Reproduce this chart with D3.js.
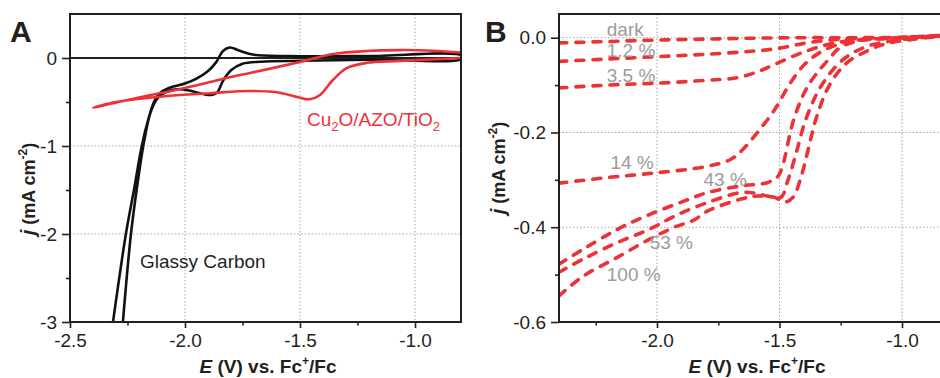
<!DOCTYPE html>
<html>
<head>
<meta charset="utf-8">
<script src="https://cdn.jsdelivr.net/npm/d3@7"></script>
<style>
  body { margin: 0; background: #fff; }
  svg text { font-family: "Liberation Sans", Arial, sans-serif; }
  .tick text { font-size: 19px; fill: #231f20; }
  .tick line { stroke: #231f20; stroke-width: 1.6; }
  .domain { display: none; }
</style>
</head>
<body>
<div id="chart"></div>
<script>
// ---- data ----
// Panel A: cyclic voltammograms, [E (V), j (mA cm-2)]
var glassyCarbon = [
  [-2.313, -3], [-2.257, -2], [-2.222, -1.5], [-2.188, -1], [-2.16, -0.7], [-2.135, -0.5],
  [-2.11, -0.4], [-2.07, -0.34], [-2.0, -0.29], [-1.95, -0.235], [-1.905, -0.16],
  [-1.865, -0.05], [-1.835, 0.08], [-1.805, 0.12], [-1.765, 0.085], [-1.70, 0.037],
  [-1.55, 0.022], [-1.2, 0.022], [-0.8, 0.03],
  [-0.8, -0.01], [-1.2, -0.02], [-1.5, -0.032], [-1.67, -0.042], [-1.75, -0.065],
  [-1.80, -0.14], [-1.835, -0.26], [-1.86, -0.39], [-1.885, -0.42], [-1.92, -0.41],
  [-1.98, -0.37], [-2.03, -0.355], [-2.08, -0.38], [-2.12, -0.46], [-2.15, -0.62],
  [-2.178, -0.95], [-2.205, -1.4], [-2.235, -2], [-2.27, -3]
];
var cu2oStack = [
  [-0.8, 0.062], [-0.92, 0.083], [-1.065, 0.09], [-1.21, 0.08], [-1.357, 0.045],
  [-1.5, -0.045], [-1.717, -0.17], [-1.79, -0.21], [-2.0, -0.34], [-2.2, -0.45], [-2.4, -0.565],
  [-2.3, -0.5], [-2.11, -0.44], [-1.89, -0.40], [-1.717, -0.375], [-1.6, -0.39],
  [-1.5, -0.452], [-1.457, -0.468], [-1.413, -0.42], [-1.357, -0.25], [-1.297, -0.115],
  [-1.21, -0.055], [-1.065, -0.033], [-0.8, 0.0]
];

// Panel B: linear sweeps at different light intensities, [E (V), j (mA cm-2)]
var lightLabels = ["dark", "1.2 %", "3.5 %", "14 %", "43 %", "53 %", "100 %"];
var sweepDark = [[-2.4, -0.011], [-2.2, -0.008], [-2.0, -0.005], [-1.8, -0.003], [-1.6, -0.001],
  [-1.4, 0], [-1.2, 0.0], [-1.0, 0.001], [-0.8, 0.006]];
var sweep1 = [[-2.4, -0.05], [-2.2, -0.045], [-2.0, -0.04], [-1.8, -0.035], [-1.6, -0.028],
  [-1.5, -0.022], [-1.4, -0.012], [-1.3, -0.005], [-1.2, -0.002], [-1.0, 0.0], [-0.8, 0.005]];
var sweep3 = [[-2.4, -0.106], [-2.2, -0.1], [-2.0, -0.096], [-1.8, -0.09], [-1.68, -0.085],
  [-1.6, -0.074], [-1.535, -0.06], [-1.4, -0.03], [-1.265, -0.01], [-1.13, -0.003], [-1.0, 0.0], [-0.8, 0.005]];
var sweep14 = [[-2.4, -0.307], [-2.2, -0.295], [-2.0, -0.285], [-1.8, -0.272], [-1.70, -0.257],
  [-1.65, -0.236], [-1.59, -0.2], [-1.52, -0.152], [-1.455, -0.095], [-1.385, -0.05],
  [-1.30, -0.022], [-1.21, -0.008], [-1.0, 0.0], [-0.8, 0.005]];
var sweep43 = [[-2.4, -0.478], [-2.3, -0.446], [-2.16, -0.404], [-2.03, -0.373], [-1.89, -0.345],
  [-1.795, -0.327], [-1.66, -0.313], [-1.55, -0.306], [-1.51, -0.295], [-1.49, -0.275],
  [-1.442, -0.173], [-1.384, -0.102], [-1.30, -0.046], [-1.25, -0.02], [-1.17, -0.006],
  [-1.0, 0.0], [-0.8, 0.005]];
var sweep53 = [[-2.4, -0.495], [-2.3, -0.467], [-2.16, -0.432], [-2.03, -0.404], [-1.93, -0.377],
  [-1.795, -0.348], [-1.66, -0.327], [-1.6, -0.328], [-1.55, -0.334], [-1.495, -0.337],
  [-1.465, -0.3], [-1.43, -0.24], [-1.393, -0.173], [-1.33, -0.102], [-1.24, -0.046],
  [-1.14, -0.018], [-1.0, -0.004], [-0.8, 0.005]];
var sweep100 = [[-2.4, -0.545], [-2.3, -0.503], [-2.16, -0.463], [-2.03, -0.425], [-1.93, -0.4],
  [-1.85, -0.385], [-1.795, -0.366], [-1.66, -0.341], [-1.59, -0.334], [-1.52, -0.337],
  [-1.48, -0.347], [-1.445, -0.337], [-1.41, -0.29], [-1.38, -0.23], [-1.352, -0.173],
  [-1.298, -0.102], [-1.225, -0.053], [-1.13, -0.025], [-1.06, -0.012], [-0.95, -0.003], [-0.8, 0.005]];
var sweeps = [sweepDark, sweep1, sweep3, sweep14, sweep43, sweep53, sweep100];
// where each intensity label sits (E, j of the text baseline start)
var labelE = [-2.205, -2.205, -2.205, -2.19, -1.81, -2.03, -2.205];
var labelJ = [0.003, -0.041, -0.093, -0.278, -0.314, -0.446, -0.513];

// axis ticks
var xTicksA = [-2.5, -2.0, -1.5, -1.0];
var xMinorA = [-2.25, -1.75, -1.25];
var yTicksA = [0, -1, -2, -3];
var yMinorA = [-0.5, -1.5, -2.5];
var xTicksB = [-2.0, -1.5, -1.0];
var xMinorB = [-2.25, -1.75, -1.25];
var yTicksB = [0.0, -0.2, -0.4, -0.6];
var yMinorB = [-0.1, -0.3, -0.5];

var svgWidth = 940;
var svgHeight = 378;
var red = "#ec3237";
var ink = "#231f20";

var svg = d3.select("#chart")
  .append("svg")
  .attr("width", svgWidth)
  .attr("height", svgHeight);

// ---- panel A ----
var boxA = { left: 70, right: 461, top: 14, bottom: 322 };
var xA = d3.scaleLinear().domain([-2.5, -0.8]).range([boxA.left, boxA.right]);
var yA = d3.scaleLinear().domain([-3, 0.5]).range([boxA.bottom, boxA.top]);

// ---- panel B ----
var boxB = { left: 559, right: 951, top: 14, bottom: 322 };
var xB = d3.scaleLinear().domain([-2.4, -0.8]).range([boxB.left, boxB.right]);
var yB = d3.scaleLinear().domain([-0.6, 0.05]).range([boxB.bottom, boxB.top]);

function drawGrid(g, x, y, box, xs, ys) {
  g.selectAll(".vgrid").data(xs).enter().append("line")
    .attr("x1", d => x(d)).attr("x2", d => x(d))
    .attr("y1", box.top).attr("y2", box.bottom)
    .attr("stroke", "#a7a7a7").attr("stroke-width", 1).attr("stroke-dasharray", "1.5,2");
  g.selectAll(".hgrid").data(ys).enter().append("line")
    .attr("y1", d => y(d)).attr("y2", d => y(d))
    .attr("x1", box.left).attr("x2", box.right)
    .attr("stroke", "#a7a7a7").attr("stroke-width", 1).attr("stroke-dasharray", "1.5,2");
}

function drawAxes(g, x, y, box, xt, xm, yt, ym, xfmt, yfmt) {
  g.append("g").attr("transform", `translate(0,${box.bottom})`)
    .call(d3.axisBottom(x).tickValues(xt).tickSize(6).tickSizeOuter(0).tickPadding(6).tickFormat(xfmt));
  g.append("g").attr("transform", `translate(0,${box.bottom})`)
    .call(d3.axisBottom(x).tickValues(xm).tickSize(3.5).tickSizeOuter(0).tickFormat(""));
  g.append("g").attr("transform", `translate(${box.left},0)`)
    .call(d3.axisLeft(y).tickValues(yt).tickSize(8).tickSizeOuter(0).tickPadding(5).tickFormat(yfmt));
  g.append("g").attr("transform", `translate(${box.left},0)`)
    .call(d3.axisLeft(y).tickValues(ym).tickSize(4).tickSizeOuter(0).tickFormat(""));
  g.append("rect")
    .attr("x", box.left).attr("y", box.top)
    .attr("width", box.right - box.left).attr("height", box.bottom - box.top)
    .attr("fill", "none").attr("stroke", ink).attr("stroke-width", 2);
}

svg.append("clipPath").attr("id", "clipA").append("rect")
  .attr("x", boxA.left).attr("y", boxA.top)
  .attr("width", boxA.right - boxA.left).attr("height", boxA.bottom - boxA.top);
svg.append("clipPath").attr("id", "clipB").append("rect")
  .attr("x", boxB.left).attr("y", boxB.top)
  .attr("width", boxB.right - boxB.left).attr("height", boxB.bottom - boxB.top);

var gA = svg.append("g");
drawGrid(gA, xA, yA, boxA, [-2.0, -1.5, -1.0], [-1, -2]);

// zero line
gA.append("line")
  .attr("x1", boxA.left).attr("x2", boxA.right)
  .attr("y1", yA(0)).attr("y2", yA(0))
  .attr("stroke", ink).attr("stroke-width", 2);

var lineA = d3.line().x(d => xA(d[0])).y(d => yA(d[1])).curve(d3.curveCatmullRom.alpha(0.5));
gA.append("path").datum(glassyCarbon)
  .attr("clip-path", "url(#clipA)")
  .attr("d", lineA).attr("fill", "none")
  .attr("stroke", "#111").attr("stroke-width", 2.6);
gA.append("path").datum(cu2oStack)
  .attr("clip-path", "url(#clipA)")
  .attr("d", lineA).attr("fill", "none")
  .attr("stroke", red).attr("stroke-width", 2.6);

drawAxes(gA, xA, yA, boxA, xTicksA, xMinorA, yTicksA, yMinorA,
  d => d.toFixed(1), d => d.toFixed(0));

// curve labels
var cuLabel = gA.append("text").attr("x", 307).attr("y", 126)
  .attr("font-size", 19).attr("fill", red);
cuLabel.append("tspan").text("Cu");
cuLabel.append("tspan").attr("font-size", 13).attr("dy", 5).text("2");
cuLabel.append("tspan").attr("dy", -5).text("O/AZO/TiO");
cuLabel.append("tspan").attr("font-size", 13).attr("dy", 5).text("2");

gA.append("text").attr("x", 140).attr("y", 268)
  .attr("font-size", 19).attr("fill", ink).text("Glassy Carbon");

// ---- panel B drawing ----
var gB = svg.append("g");
drawGrid(gB, xB, yB, boxB, xTicksB, [0.0, -0.2, -0.4]);

var lineB = d3.line().x(d => xB(d[0])).y(d => yB(d[1])).curve(d3.curveCatmullRom.alpha(0.5));
gB.selectAll(".sweep").data(sweeps).enter().append("path")
  .attr("class", "sweep")
  .attr("clip-path", "url(#clipB)")
  .attr("d", lineB).attr("fill", "none")
  .attr("stroke", red).attr("stroke-width", 3.6)
  .attr("stroke-linecap", "round")
  .attr("stroke-dasharray", "8,9");

drawAxes(gB, xB, yB, boxB, xTicksB, xMinorB, yTicksB, yMinorB,
  d => d.toFixed(1), d => d.toFixed(1));

gB.selectAll(".lab").data(lightLabels).enter().append("text")
  .attr("class", "lab")
  .attr("x", (d, i) => xB(labelE[i]))
  .attr("y", (d, i) => yB(labelJ[i]))
  .attr("font-size", 19).attr("fill", "#9b9b9b")
  .text(d => d);

// ---- axis titles ----
function xTitle(cx) {
  var t = svg.append("text").attr("x", cx).attr("y", 373)
    .attr("text-anchor", "middle").attr("font-size", 19)
    .attr("font-weight", "bold").attr("fill", ink);
  t.append("tspan").attr("font-style", "italic").text("E");
  t.append("tspan").text(" (V) vs. Fc");
  t.append("tspan").attr("font-size", 12).attr("dy", -8).text("+");
  t.append("tspan").attr("dy", 8).text("/Fc");
}
function yTitle(bx, cy) {
  var t = svg.append("text")
    .attr("transform", `translate(${bx},${cy}) rotate(-90)`)
    .attr("text-anchor", "middle").attr("font-size", 20)
    .attr("font-weight", "bold").attr("fill", ink);
  t.append("tspan").attr("font-style", "italic").text("j");
  t.append("tspan").attr("font-size", 18).text(" (mA cm");
  t.append("tspan").attr("font-size", 12).attr("dy", -8).text("-2");
  t.append("tspan").attr("font-size", 18).attr("dy", 8).text(")");
}
xTitle(268);
xTitle(757);
yTitle(35, 189);
yTitle(505, 168);

// panel letters
svg.append("text").attr("x", 10).attr("y", 42)
  .attr("font-size", 30).attr("font-weight", "bold").attr("fill", ink).text("A");
svg.append("text").attr("x", 485).attr("y", 42)
  .attr("font-size", 30).attr("font-weight", "bold").attr("fill", ink).text("B");
</script>
</body>
</html>
